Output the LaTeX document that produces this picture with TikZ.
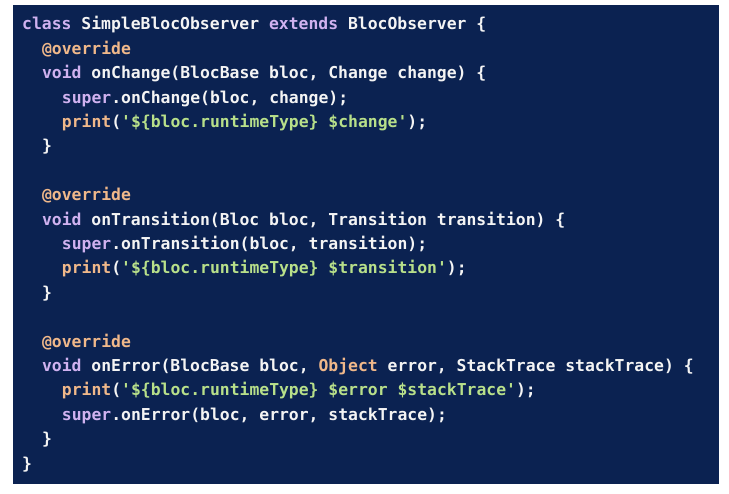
\documentclass[tikz,border=0pt]{standalone}
\usepackage{fontspec}
\newfontfamily\codefont{DejaVu Sans Mono Bold}
\definecolor{bg}{HTML}{0B2251}
\definecolor{kw}{HTML}{D0B2F0}
\definecolor{an}{HTML}{F0B88A}
\definecolor{st}{HTML}{B8E08A}
\definecolor{tx}{HTML}{F4F4F4}
\newcommand\K[1]{\textcolor{kw}{#1}}
\newcommand\A[1]{\textcolor{an}{#1}}
\newcommand\Sg[1]{\textcolor{st}{#1}}
\tikzset{code/.style={anchor=base west, inner sep=0pt, font=\codefont\fontsize{16.4}{18}\selectfont, text=tx}}
\begin{document}
\begin{tikzpicture}[x=1pt,y=-1pt]
\useasboundingbox (0,0) rectangle (729,494);
\fill[bg] (13,5) rectangle (719,484);
\def\cw{9.93}
\def\lh{24.4}
\node[code] (l1) at (22,30) {\K{class} SimpleBlocObserver \K{extends} BlocObserver \{};
\node[code] (l2) at ({22+2*\cw},{30+1*\lh}) {\A{@override}};
\node[code] (l3) at ({22+2*\cw},{30+2*\lh}) {\K{void} onChange(BlocBase bloc, Change change) \{};
\node[code] (l4) at ({22+4*\cw},{30+3*\lh}) {\K{super}.onChange(bloc, change);};
\node[code] (l5) at ({22+4*\cw},{30+4*\lh}) {\A{print}(\Sg{'\$\{bloc.runtimeType\} \$change'});};
\node[code] (l6) at ({22+2*\cw},{30+5*\lh}) {\}};
\node[code] (l8) at ({22+2*\cw},{30+7*\lh}) {\A{@override}};
\node[code] (l9) at ({22+2*\cw},{30+8*\lh}) {\K{void} onTransition(Bloc bloc, Transition transition) \{};
\node[code] (l10) at ({22+4*\cw},{30+9*\lh}) {\K{super}.onTransition(bloc, transition);};
\node[code] (l11) at ({22+4*\cw},{30+10*\lh}) {\A{print}(\Sg{'\$\{bloc.runtimeType\} \$transition'});};
\node[code] (l12) at ({22+2*\cw},{30+11*\lh}) {\}};
\node[code] (l14) at ({22+2*\cw},{30+13*\lh}) {\A{@override}};
\node[code] (l15) at ({22+2*\cw},{30+14*\lh}) {\K{void} onError(BlocBase bloc, \A{Object} error, StackTrace stackTrace) \{};
\node[code] (l16) at ({22+4*\cw},{30+15*\lh}) {\A{print}(\Sg{'\$\{bloc.runtimeType\} \$error \$stackTrace'});};
\node[code] (l17) at ({22+4*\cw},{30+16*\lh}) {\K{super}.onError(bloc, error, stackTrace);};
\node[code] (l18) at ({22+2*\cw},{30+17*\lh}) {\}};
\node[code] (l19) at (22,{30+18*\lh}) {\}};
\end{tikzpicture}
\end{document}
